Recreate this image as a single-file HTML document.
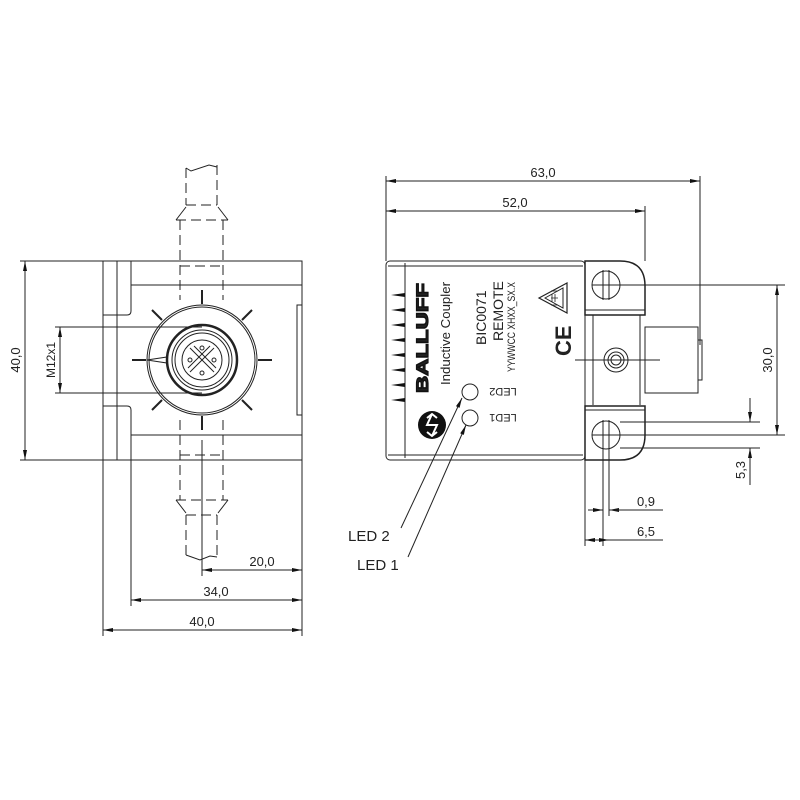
<!DOCTYPE html>
<html><head><meta charset="utf-8"><style>
html,body{margin:0;padding:0;background:#fff}
svg{display:block}
text{font-family:"Liberation Sans",sans-serif;fill:#222}
</style></head><body>
<svg width="800" height="800" viewBox="0 0 800 800" xmlns="http://www.w3.org/2000/svg">
<defs>
<marker id="a" viewBox="0 0 10 4" refX="10" refY="2" markerWidth="10" markerHeight="4" orient="auto-start-reverse" markerUnits="userSpaceOnUse"><path d="M0,0 L10,2 L0,4z" fill="#111"/></marker>
</defs>
<g stroke="#222" fill="none" stroke-width="1">
<!-- LEFT VIEW -->
<rect x="103" y="261" width="199" height="199"/>
<path d="M103,261 h28 v50 q0,4 -4,4 h-24"/>
<path d="M103,460 h28 v-50 q0,-4 -4,-4 h-24"/>
<line x1="117" y1="261" x2="117" y2="460"/>
<line x1="131" y1="285" x2="302" y2="285"/>
<line x1="131" y1="435" x2="302" y2="435"/>
<rect x="297" y="305" width="5" height="110"/>
<circle cx="202" cy="360" r="55"/>
<circle cx="202" cy="360" r="53"/>
<circle cx="202" cy="360" r="35" stroke-width="2.5"/>
<circle cx="202" cy="360" r="30"/>
<circle cx="202" cy="360" r="27"/>
<circle cx="202" cy="360" r="20"/>
<line x1="190" y1="348" x2="214" y2="372"/><line x1="214" y1="348" x2="190" y2="372"/>
<line x1="194" y1="346" x2="216" y2="368"/><line x1="210" y1="346" x2="188" y2="368"/>
<circle cx="202" cy="348" r="2"/><circle cx="202" cy="373" r="2"/><circle cx="190" cy="360" r="2"/><circle cx="214" cy="360" r="2"/>
<path d="M147,360 l20,-3 v6z"/>
<g stroke-width="2">
<line x1="202" y1="290" x2="202" y2="304"/><line x1="202" y1="416" x2="202" y2="430"/>
<line x1="132" y1="360" x2="146" y2="360"/><line x1="258" y1="360" x2="272" y2="360"/>
<line x1="152" y1="310" x2="162" y2="320"/><line x1="252" y1="310" x2="242" y2="320"/>
<line x1="152" y1="410" x2="162" y2="400"/><line x1="252" y1="410" x2="242" y2="400"/>
</g>
<g stroke-dasharray="10,5">
<line x1="180" y1="220" x2="180" y2="300"/><line x1="223" y1="220" x2="223" y2="300"/>
<line x1="180" y1="420" x2="180" y2="500"/><line x1="223" y1="420" x2="223" y2="500"/>
<line x1="176" y1="220" x2="228" y2="220"/><line x1="180" y1="266" x2="223" y2="266"/>
<line x1="186" y1="205" x2="217" y2="205"/>
<line x1="176" y1="500" x2="228" y2="500"/><line x1="180" y1="455" x2="223" y2="455"/>
<line x1="186" y1="515" x2="217" y2="515"/>
<line x1="186" y1="168" x2="186" y2="205"/><line x1="217" y1="165" x2="217" y2="205"/>
<line x1="186" y1="515" x2="186" y2="555"/><line x1="217" y1="515" x2="217" y2="555"/>
</g>
<path d="M176,220 l10,-13 M228,220 l-10,-13 M176,500 l10,13 M228,500 l-10,13"/>
<path d="M186,168 l5,3 l18,-6 l8,2"/>
<path d="M186,555 l14,5 l10,-4 l7,1"/>
<line x1="202" y1="440" x2="202" y2="576"/>
<!-- left dims -->
<line x1="20" y1="261" x2="103" y2="261"/><line x1="20" y1="460" x2="103" y2="460"/>
<line x1="25" y1="261" x2="25" y2="460" marker-start="url(#a)" marker-end="url(#a)"/>
<line x1="55" y1="327" x2="202" y2="327"/><line x1="55" y1="393" x2="202" y2="393"/>
<line x1="60" y1="327" x2="60" y2="393" marker-start="url(#a)" marker-end="url(#a)"/>
<line x1="103" y1="460" x2="103" y2="636"/><line x1="131" y1="460" x2="131" y2="606"/><line x1="302" y1="460" x2="302" y2="636"/>
<line x1="202" y1="570" x2="302" y2="570" marker-start="url(#a)" marker-end="url(#a)"/>
<line x1="131" y1="600" x2="302" y2="600" marker-start="url(#a)" marker-end="url(#a)"/>
<line x1="103" y1="630" x2="302" y2="630" marker-start="url(#a)" marker-end="url(#a)"/>
<!-- RIGHT VIEW -->
<rect x="386" y="261" width="199" height="199" rx="4"/>
<line x1="405" y1="263" x2="405" y2="458"/>
<line x1="388" y1="266" x2="583" y2="266"/><line x1="388" y1="455" x2="583" y2="455"/>
<path d="M585,261 h35 q25,0 25,25 v29 h-60z" stroke-width="1.5"/>
<path d="M585,460 h35 q25,0 25,-25 v-29 h-60z" stroke-width="1.5"/>
<line x1="585" y1="310" x2="645" y2="310"/><line x1="585" y1="410" x2="645" y2="410"/>
<line x1="640" y1="315" x2="640" y2="405"/><line x1="593" y1="315" x2="593" y2="405"/>
<rect x="645" y="327" width="53" height="66"/>
<rect x="698" y="340" width="4" height="40"/>
<circle cx="606" cy="285" r="14"/><line x1="592" y1="285" x2="700" y2="285"/><line x1="603" y1="270" x2="603" y2="300"/><line x1="609" y1="270" x2="609" y2="300"/>
<circle cx="606" cy="435" r="14"/><line x1="592" y1="435" x2="760" y2="435"/><line x1="603" y1="420" x2="603" y2="546"/><line x1="609" y1="420" x2="609" y2="516"/>
<line x1="620" y1="422" x2="760" y2="422"/><line x1="620" y1="448" x2="760" y2="448"/>
<circle cx="616" cy="360" r="12"/><circle cx="616" cy="360" r="8"/><circle cx="616" cy="360" r="5"/>
<line x1="575" y1="360" x2="660" y2="360"/>
<g fill="#111" stroke="none">
<path d="M391,295 l14,-2 v4z M391,310 l14,-2 v4z M391,325 l14,-2 v4z M391,340 l14,-2 v4z M391,355 l14,-2 v4z M391,370 l14,-2 v4z M391,385 l14,-2 v4z M391,400 l14,-2 v4z"/>
<circle cx="432" cy="425" r="14"/>
</g>
<path d="M427,418 l5,-4 l5,4 M437,432 l-5,4 l-5,-4 M432,414 l-5,11 l10,0 l-5,11" stroke="#fff" stroke-width="2"/>
<circle cx="470" cy="392" r="8"/><circle cx="470" cy="418" r="8"/>
<path d="M539,298 l28,-15 v30z" stroke-width="1.2"/><path d="M545,298 l18,-10 v20z"/>
<path d="M551,291 h7 M551,298 h7 M551,305 h7 M552,294 v8 M555,294 v8" stroke-width="0.8"/>
<line x1="401" y1="528" x2="462" y2="398" marker-end="url(#a)"/>
<line x1="408" y1="557" x2="466" y2="425" marker-end="url(#a)"/>
<!-- right dims -->
<line x1="386" y1="176" x2="386" y2="261"/>
<line x1="700" y1="176" x2="700" y2="345"/>
<line x1="645" y1="206" x2="645" y2="261"/>
<line x1="386" y1="181" x2="700" y2="181" marker-start="url(#a)" marker-end="url(#a)"/>
<line x1="386" y1="211" x2="645" y2="211" marker-start="url(#a)" marker-end="url(#a)"/>
<line x1="700" y1="285" x2="785" y2="285"/><line x1="760" y1="435" x2="785" y2="435"/>
<line x1="777" y1="285" x2="777" y2="435" marker-start="url(#a)" marker-end="url(#a)"/>
<line x1="750" y1="398" x2="750" y2="422" marker-end="url(#a)"/>
<line x1="750" y1="448" x2="750" y2="485"/>
<line x1="750" y1="472" x2="750" y2="448" marker-end="url(#a)"/>
<line x1="585" y1="460" x2="585" y2="546"/>
<line x1="588" y1="510" x2="603" y2="510" marker-end="url(#a)"/>
<line x1="625" y1="510" x2="609" y2="510" marker-end="url(#a)"/>
<line x1="609" y1="510" x2="663" y2="510"/>
<line x1="585" y1="540" x2="609" y2="540" marker-start="url(#a)" marker-end="url(#a)"/>
<line x1="609" y1="540" x2="663" y2="540"/>
</g>
<!-- texts -->
<text x="262" y="566" font-size="13" text-anchor="middle">20,0</text>
<text x="216" y="596" font-size="13" text-anchor="middle">34,0</text>
<text x="202" y="626" font-size="13" text-anchor="middle">40,0</text>
<text transform="translate(20,360) rotate(-90)" font-size="13" text-anchor="middle">40,0</text>
<text transform="translate(55,360) rotate(-90)" font-size="12" text-anchor="middle">M12x1</text>
<text x="543" y="177" font-size="13" text-anchor="middle">63,0</text>
<text x="515" y="207" font-size="13" text-anchor="middle">52,0</text>
<text transform="translate(772,360) rotate(-90)" font-size="13" text-anchor="middle">30,0</text>
<text transform="translate(745,470) rotate(-90)" font-size="13" text-anchor="middle">5,3</text>
<text x="646" y="506" font-size="13" text-anchor="middle">0,9</text>
<text x="646" y="536" font-size="13" text-anchor="middle">6,5</text>
<text x="348" y="541" font-size="15">LED 2</text>
<text x="357" y="570" font-size="15">LED 1</text>
<text transform="translate(428,393) rotate(-90)" font-size="17" font-weight="bold" fill="#111" stroke="#111" stroke-width="1.2" textLength="110" lengthAdjust="spacingAndGlyphs">BALLUFF</text>
<text transform="translate(450,385) rotate(-90)" font-size="13" textLength="103" lengthAdjust="spacingAndGlyphs">Inductive Coupler</text>
<text transform="translate(486,345) rotate(-90)" font-size="14">BIC0071</text>
<text transform="translate(503,341) rotate(-90)" font-size="14">REMOTE</text>
<text transform="translate(515,372) rotate(-90)" font-size="11" textLength="90" lengthAdjust="spacingAndGlyphs">YYWWCC XHXX_SX.X</text>
<text transform="translate(571,356) rotate(-90)" font-size="22" font-weight="bold" fill="#111">CE</text>
<text transform="translate(503,388) rotate(180)" font-size="11" text-anchor="middle">LED2</text>
<text transform="translate(503,414) rotate(180)" font-size="11" text-anchor="middle">LED1</text>
</svg>
</body></html>
